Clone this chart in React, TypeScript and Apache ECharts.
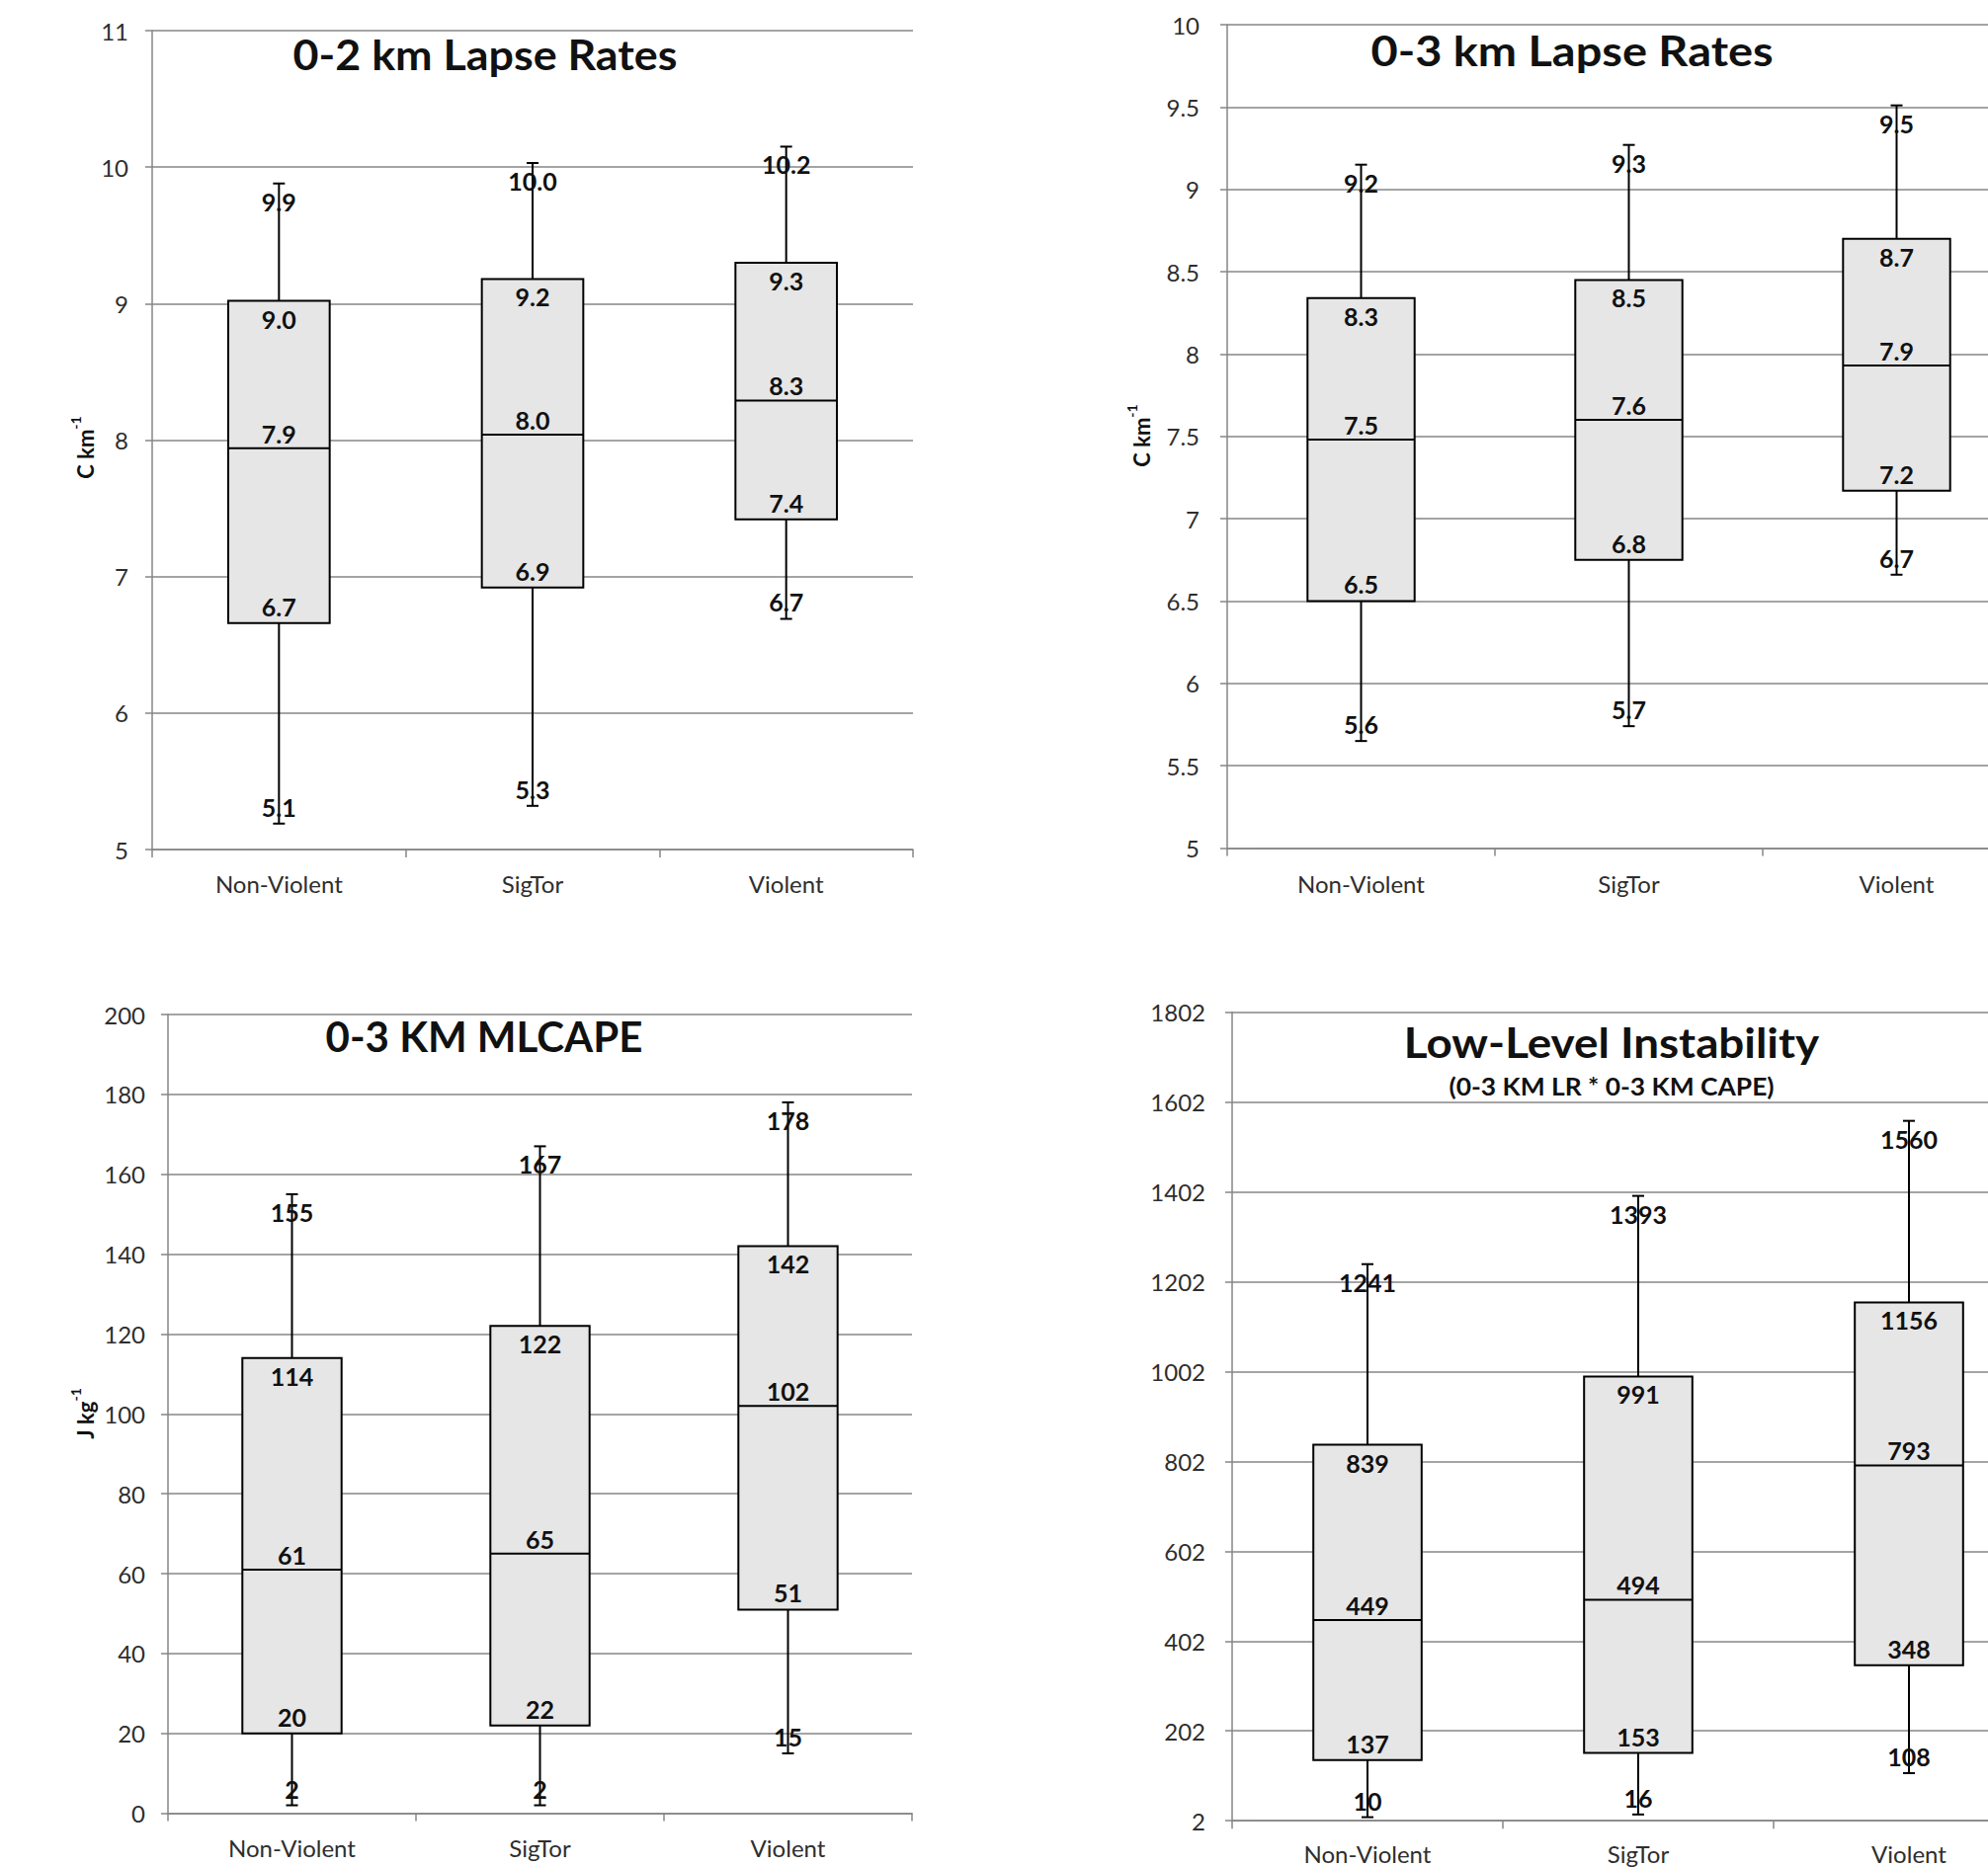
import React, { useEffect, useRef } from 'react';
import * as echarts from 'echarts';

const categories = ['Non-Violent', 'SigTor', 'Violent'];

// 0-2 km lapse rates (C km-1)
const lr02Min = [5.19, 5.32, 6.69];
const lr02Q1 = [6.66, 6.92, 7.42];
const lr02Median = [7.94, 8.04, 8.29];
const lr02Q3 = [9.02, 9.18, 9.3];
const lr02Max = [9.88, 10.03, 10.15];
const lr02Labels = [
  ['5.1', '6.7', '7.9', '9.0', '9.9'],
  ['5.3', '6.9', '8.0', '9.2', '10.0'],
  ['6.7', '7.4', '8.3', '9.3', '10.2'],
];

// 0-3 km lapse rates (C km-1)
const lr03Min = [5.65, 5.74, 6.66];
const lr03Q1 = [6.5, 6.75, 7.17];
const lr03Median = [7.48, 7.6, 7.93];
const lr03Q3 = [8.34, 8.45, 8.7];
const lr03Max = [9.15, 9.27, 9.51];
const lr03Labels = [
  ['5.6', '6.5', '7.5', '8.3', '9.2'],
  ['5.7', '6.8', '7.6', '8.5', '9.3'],
  ['6.7', '7.2', '7.9', '8.7', '9.5'],
];

// 0-3 km MLCAPE (J kg-1)
const capeMin = [2, 2, 15];
const capeQ1 = [20, 22, 51];
const capeMedian = [61, 65, 102];
const capeQ3 = [114, 122, 142];
const capeMax = [155, 167, 178];

// Low-level instability (0-3 km LR * 0-3 km CAPE)
const lliMin = [10, 16, 108];
const lliQ1 = [137, 153, 348];
const lliMedian = [449, 494, 793];
const lliQ3 = [839, 991, 1156];
const lliMax = [1241, 1393, 1560];

const FONT = 'Lato, "Open Sans", sans-serif';
const GRID_COLOR = '#868686';
const LABEL_COLOR = '#2e2e2e';
const BOX_RATIO = 0.4;

function makeLabels(mins: number[], q1: number[], med: number[], q3: number[], max: number[]) {
  return categories.map((_, i) => [mins[i], q1[i], med[i], q3[i], max[i]].map((v) => String(v)));
}

function boxSeries(idx: number, mins: number[], q1: number[], med: number[], q3: number[], max: number[], labels: string[][]) {
  return {
    type: 'custom',
    xAxisIndex: idx,
    yAxisIndex: idx,
    clip: false,
    z: 5,
    data: categories.map((_, i) => [i, mins[i], q1[i], med[i], q3[i], max[i]]),
    encode: { x: 0, y: [1, 2, 3, 4, 5] },
    renderItem: (params: any, api: any) => {
      const ci = api.value(0);
      const vals = [1, 2, 3, 4, 5].map((d) => api.value(d));
      const ys = vals.map((v) => api.coord([ci, v])[1]);
      const x = api.coord([ci, vals[0]])[0];
      const bw = api.size([1, 0])[0] * BOX_RATIO;
      const [yMin, yQ1, yMed, yQ3, yMax] = ys;
      const line = (x1: number, y1: number, x2: number, y2: number) => ({
        type: 'line',
        shape: { x1, y1, x2, y2 },
        style: { stroke: '#000', lineWidth: 2 },
      });
      const txt = (t: string, y: number) => ({
        type: 'text',
        x,
        y,
        z2: 10,
        style: {
          text: t,
          font: `bold 25px ${FONT}`,
          fill: '#111',
          textAlign: 'center',
          textVerticalAlign: 'middle',
          align: 'center',
          verticalAlign: 'middle',
        },
      });
      const lab = labels[params.dataIndex];
      return {
        type: 'group',
        children: [
          line(x, yQ3, x, yMax),
          line(x, yQ1, x, yMin),
          line(x - 6, yMax, x + 6, yMax),
          line(x - 6, yMin, x + 6, yMin),
          {
            type: 'rect',
            shape: { x: x - bw / 2, y: yQ3, width: bw, height: yQ1 - yQ3 },
            style: { fill: '#e6e6e6', stroke: '#000', lineWidth: 2 },
          },
          line(x - bw / 2, yMed, x + bw / 2, yMed),
          txt(lab[0], yMin - 17),
          txt(lab[1], yQ1 - 17),
          txt(lab[2], yMed - 15),
          txt(lab[3], yQ3 + 18),
          txt(lab[4], yMax + 18),
        ],
      };
    },
  };
}

function xAxis(idx: number, margin: number) {
  return {
    type: 'category',
    gridIndex: idx,
    data: categories,
    boundaryGap: true,
    axisLine: { show: true, lineStyle: { color: GRID_COLOR, width: 1.5 } },
    axisTick: { show: true, alignWithLabel: false, length: 8, lineStyle: { color: GRID_COLOR, width: 1.5 } },
    axisLabel: { fontFamily: FONT, fontSize: 24, color: LABEL_COLOR, margin },
    splitLine: { show: false },
  };
}

function yAxis(idx: number, min: number, max: number, interval: number, margin: number) {
  return {
    type: 'value',
    gridIndex: idx,
    min,
    max,
    interval,
    axisLine: { show: true, lineStyle: { color: GRID_COLOR, width: 1.5 } },
    axisTick: { show: true, length: 7, lineStyle: { color: GRID_COLOR, width: 1.5 } },
    axisLabel: {
      fontFamily: FONT,
      fontSize: 24,
      color: LABEL_COLOR,
      margin,
      formatter: (v: number) => String(v),
    },
    splitLine: { show: true, lineStyle: { color: GRID_COLOR, width: 1.5 } },
  };
}

function titleText(text: string, x: number, y: number, size: number, scaleX = 1) {
  return {
    type: 'text',
    x,
    y,
    scaleX,
    z: 10,
    style: {
      text,
      font: `bold ${size}px ${FONT}`,
      fill: '#111',
      textAlign: 'center',
      textVerticalAlign: 'middle',
      align: 'center',
      verticalAlign: 'middle',
    },
  };
}

function unitText(main: string, sup: string, x: number, y: number) {
  return {
    type: 'text',
    x,
    y,
    rotation: Math.PI / 2,
    z: 10,
    style: {
      text: `{a|${main}}{b|${sup}}`,
      textAlign: 'center',
      textVerticalAlign: 'middle',
      align: 'center',
      verticalAlign: 'middle',
      rich: {
        a: { font: `bold 22px ${FONT}`, fill: '#111', lineHeight: 28, verticalAlign: 'bottom' },
        b: { font: `bold 14px ${FONT}`, fill: '#111', lineHeight: 15, verticalAlign: 'top' },
      },
    },
  };
}

export default function App() {
  const ref = useRef<HTMLDivElement>(null);

  useEffect(() => {
    if (!ref.current) return;
    const chart = echarts.init(ref.current, undefined, { renderer: 'svg' });
    const capeLabels = makeLabels(capeMin, capeQ1, capeMedian, capeQ3, capeMax);
    const lliLabels = makeLabels(lliMin, lliQ1, lliMedian, lliQ3, lliMax);
    chart.setOption({
      animation: false,
      backgroundColor: '#ffffff',
      grid: [
        { left: 154, top: 31, width: 770, height: 829 },
        { left: 1242, top: 25, width: 813, height: 833.5 },
        { left: 170, top: 1027, width: 753, height: 808.6 },
        { left: 1247, top: 1024.6, width: 822, height: 818.6 },
      ],
      xAxis: [xAxis(0, 22), xAxis(1, 24), xAxis(2, 23), xAxis(3, 21)],
      yAxis: [
        yAxis(0, 5, 11, 1, 24),
        yAxis(1, 5, 10, 0.5, 28),
        yAxis(2, 0, 200, 20, 23),
        yAxis(3, 2, 1802, 200, 27),
      ],
      series: [
        boxSeries(0, lr02Min, lr02Q1, lr02Median, lr02Q3, lr02Max, lr02Labels),
        boxSeries(1, lr03Min, lr03Q1, lr03Median, lr03Q3, lr03Max, lr03Labels),
        boxSeries(2, capeMin, capeQ1, capeMedian, capeQ3, capeMax, capeLabels),
        boxSeries(3, lliMin, lliQ1, lliMedian, lliQ3, lliMax, lliLabels),
      ],
      graphic: [
        titleText('0-2 km Lapse Rates', 491, 55, 42, 1.067),
        titleText('0-3 km Lapse Rates', 1591, 50, 42, 1.117),
        titleText('0-3 KM MLCAPE', 490, 1049, 42, 1.0),
        titleText('Low-Level Instability', 1631, 1055, 42, 1.09),
        titleText('(0-3 KM LR * 0-3 KM CAPE)', 1631, 1099, 24, 1.1),
        unitText('C km', '-1', 83, 453),
        unitText('C km', '-1', 1152, 441),
        unitText('J kg', '-1', 83, 1431),
      ],
    });
    return () => chart.dispose();
  }, []);

  return (
    <div
      style={{ position: 'absolute', left: 0, top: 0, width: 2012, height: 1890, overflow: 'hidden', background: '#fff' }}
    >
      <div ref={ref} style={{ width: 2100, height: 1890 }} />
    </div>
  );
}
